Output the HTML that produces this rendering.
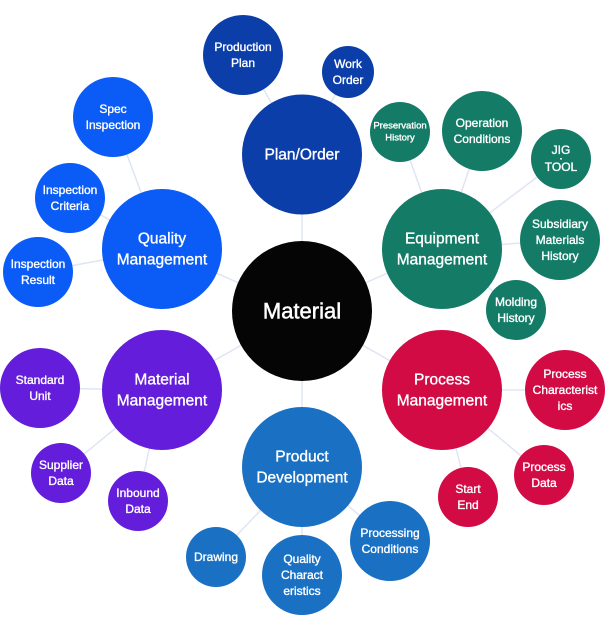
<!DOCTYPE html>
<html><head><meta charset="utf-8"><style>
html,body{margin:0;padding:0;background:#fff;width:605px;height:630px;overflow:hidden}
svg text{font-family:"Liberation Sans",sans-serif;fill:#fff;stroke:#fff;stroke-width:0.35px;text-anchor:middle;dominant-baseline:central}
.b{font-size:15.5px}.s{font-size:12px}.x{font-size:9.5px}
</style></head><body>
<svg width="605" height="630" viewBox="0 0 605 630" xmlns="http://www.w3.org/2000/svg">
<g stroke="#dfe5f3" stroke-width="1.5">
<line x1="302" y1="311" x2="302" y2="154"/><line x1="302" y1="311" x2="442" y2="249"/><line x1="302" y1="311" x2="442" y2="390"/>
<line x1="302" y1="311" x2="302" y2="467"/><line x1="302" y1="311" x2="162" y2="390"/><line x1="302" y1="311" x2="162" y2="249"/>
<line x1="302" y1="154" x2="243" y2="55"/><line x1="302" y1="154" x2="348" y2="72"/>
<line x1="442" y1="249" x2="400" y2="132"/><line x1="442" y1="249" x2="482" y2="131"/><line x1="442" y1="249" x2="561" y2="159"/><line x1="442" y1="249" x2="560" y2="240"/><line x1="442" y1="249" x2="516" y2="310"/>
<line x1="442" y1="390" x2="565" y2="390"/><line x1="442" y1="390" x2="544" y2="475"/><line x1="442" y1="390" x2="468" y2="497"/>
<line x1="302" y1="467" x2="390" y2="541"/><line x1="302" y1="467" x2="302" y2="575"/><line x1="302" y1="467" x2="216" y2="557"/>
<line x1="162" y1="390" x2="40" y2="388"/><line x1="162" y1="390" x2="61" y2="473"/><line x1="162" y1="390" x2="138" y2="501"/>
<line x1="162" y1="249" x2="113" y2="117"/><line x1="162" y1="249" x2="70" y2="198"/><line x1="162" y1="249" x2="38" y2="272"/>
</g>
<g fill="#0b3ea9"><circle cx="302" cy="154.5" r="60"/><circle cx="243" cy="55" r="40"/><circle cx="348" cy="72" r="26"/></g>
<g fill="#137b66"><circle cx="442" cy="249" r="60"/><circle cx="400" cy="132" r="30"/><circle cx="482" cy="131" r="40"/><circle cx="561" cy="159" r="30"/><circle cx="560" cy="240" r="40"/><circle cx="516" cy="310" r="30"/></g>
<g fill="#d20b45"><circle cx="442" cy="390" r="60"/><circle cx="565" cy="390" r="40"/><circle cx="544" cy="475" r="30"/><circle cx="468" cy="497" r="30"/></g>
<g fill="#1a70c3"><circle cx="302" cy="467" r="60"/><circle cx="390" cy="541" r="40"/><circle cx="302" cy="575" r="40"/><circle cx="216" cy="557" r="30"/></g>
<g fill="#631ddb"><circle cx="162" cy="390" r="60"/><circle cx="40" cy="388" r="40"/><circle cx="61" cy="473" r="30"/><circle cx="138" cy="501" r="30"/></g>
<g fill="#0b5cf6"><circle cx="162" cy="249" r="60"/><circle cx="113" cy="117" r="40"/><circle cx="70" cy="198" r="35"/><circle cx="38" cy="272" r="35"/></g>
<circle cx="302" cy="311" r="70" fill="#050505"/>
<text x="302" y="311" style="font-size:22px;stroke-width:0.5px">Material</text>
<text class="b" x="302" y="155">Plan/Order</text>
<text class="s" x="243" y="47">Production</text><text class="s" x="243" y="63">Plan</text>
<text class="s" x="348" y="64">Work</text><text class="s" x="348" y="80">Order</text>
<text class="b" x="442" y="239">Equipment</text><text class="b" x="442" y="260">Management</text>
<text class="x" x="400" y="126">Preservation</text><text class="x" x="400" y="138">History</text>
<text class="s" x="482" y="123">Operation</text><text class="s" x="482" y="139">Conditions</text>
<text class="s" x="561" y="150">JIG</text><text class="s" x="561" y="158">·</text><text class="s" x="561" y="167">TOOL</text>
<text class="s" x="560" y="224">Subsidiary</text><text class="s" x="560" y="240">Materials</text><text class="s" x="560" y="256">History</text>
<text class="s" x="516" y="302">Molding</text><text class="s" x="516" y="318">History</text>
<text class="b" x="442" y="380">Process</text><text class="b" x="442" y="401">Management</text>
<text class="s" x="565" y="374">Process</text><text class="s" x="565" y="390">Characterist</text><text class="s" x="565" y="406">ics</text>
<text class="s" x="544" y="467">Process</text><text class="s" x="544" y="483">Data</text>
<text class="s" x="468" y="489">Start</text><text class="s" x="468" y="505">End</text>
<text class="b" x="302" y="457">Product</text><text class="b" x="302" y="478">Development</text>
<text class="s" x="390" y="533">Processing</text><text class="s" x="390" y="549">Conditions</text>
<text class="s" x="302" y="559">Quality</text><text class="s" x="302" y="575">Charact</text><text class="s" x="302" y="591">eristics</text>
<text class="s" x="216" y="557">Drawing</text>
<text class="b" x="162" y="380">Material</text><text class="b" x="162" y="401">Management</text>
<text class="s" x="40" y="380">Standard</text><text class="s" x="40" y="396">Unit</text>
<text class="s" x="61" y="465">Supplier</text><text class="s" x="61" y="481">Data</text>
<text class="s" x="138" y="493">Inbound</text><text class="s" x="138" y="509">Data</text>
<text class="b" x="162" y="239">Quality</text><text class="b" x="162" y="260">Management</text>
<text class="s" x="113" y="109">Spec</text><text class="s" x="113" y="125">Inspection</text>
<text class="s" x="70" y="190">Inspection</text><text class="s" x="70" y="206">Criteria</text>
<text class="s" x="38" y="264">Inspection</text><text class="s" x="38" y="280">Result</text>
</svg>
</body></html>
